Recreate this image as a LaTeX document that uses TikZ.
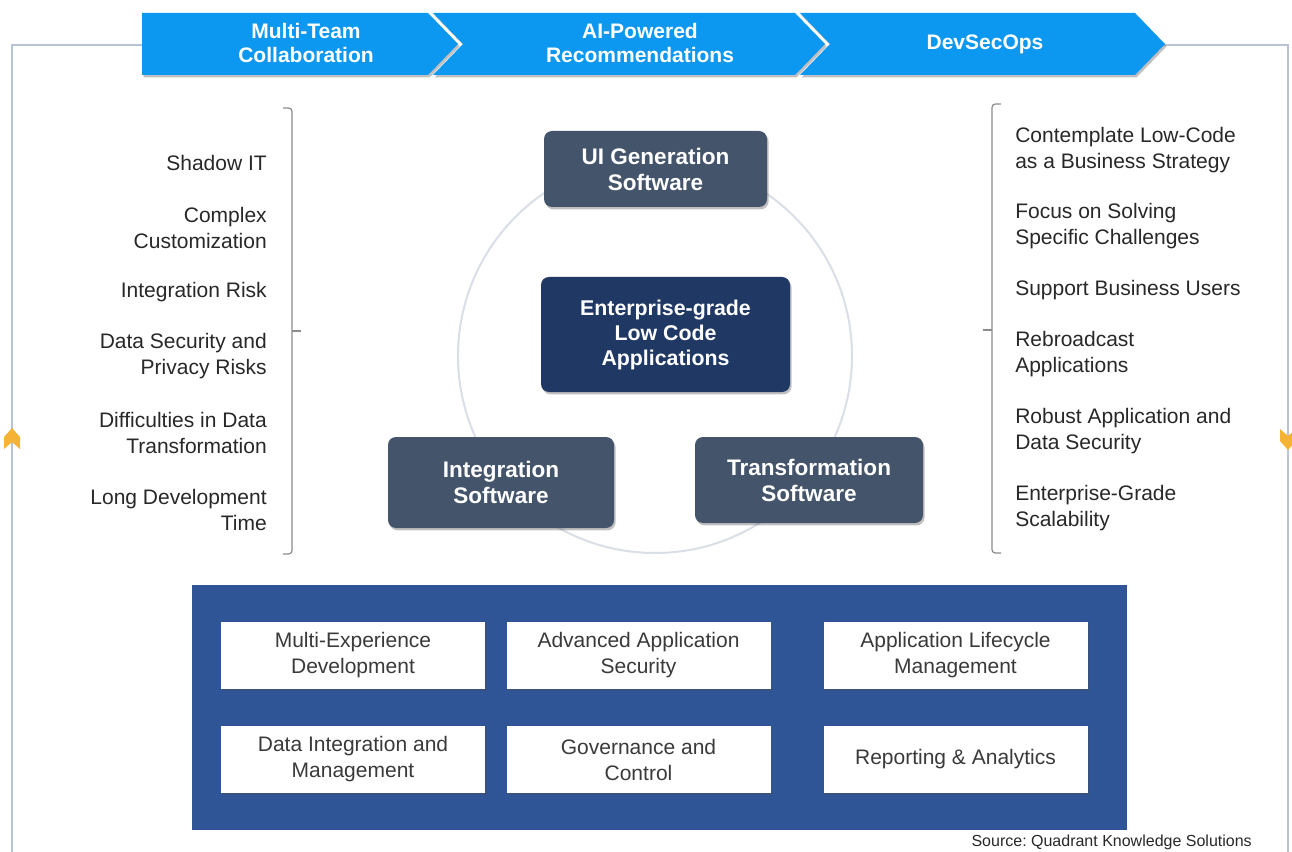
\documentclass[tikz,border=0pt]{standalone}
\usepackage{fontspec}
\setmainfont{Liberation Sans}
\usetikzlibrary{shadows}
\frenchspacing
\definecolor{chevblue}{RGB}{12,152,240}
\definecolor{slate}{RGB}{68,84,106}
\definecolor{navy}{RGB}{31,56,100}
\definecolor{panelblue}{RGB}{47,85,151}
\definecolor{framegray}{RGB}{184,196,214}
\definecolor{circgray}{RGB}{218,223,231}
\definecolor{brackgray}{RGB}{140,140,140}
\definecolor{arrowor}{RGB}{245,179,53}
\definecolor{txtdark}{RGB}{40,40,40}
\definecolor{boxtxt}{RGB}{58,58,58}
\begin{document}
\begin{tikzpicture}[x=0.75pt,y=-0.75pt,
  shad/.style={drop shadow={shadow xshift=1.2pt,shadow yshift=-1.8pt,opacity=.35,fill=black!70}},
  chev/.style={fill=chevblue,shad},
  chevtxt/.style={text=white,font=\fontsize{15.75}{18}\selectfont\bfseries,align=center,inner sep=0},
  softbox/.style={fill=slate,rounded corners=6pt,shad,text=white,align=center,
     font=\fontsize{16.9}{19.5}\selectfont\bfseries,inner sep=0},
  corebox/.style={fill=navy,rounded corners=6pt,shad,text=white,align=center,
     font=\fontsize{16}{18.75}\selectfont\bfseries,inner sep=0},
  featbox/.style={fill=white,shad,text=boxtxt,align=center,
     font=\fontsize{15.75}{19.5}\selectfont,inner sep=0,
     minimum width=198pt,minimum height=50.25pt},
  lefttxt/.style={anchor=east,align=right,text=txtdark,font=\fontsize{15.75}{19.1}\selectfont,inner sep=0},
  righttxt/.style={anchor=west,align=left,text=txtdark,font=\fontsize{15.75}{19.1}\selectfont,inner sep=0},
  frameline/.style={draw=framegray,line width=1.5pt},
  brack/.style={draw=brackgray,line width=0.9pt,rounded corners=2.5pt}
]
\useasboundingbox (0,0) rectangle (1292,852);
\fill[white] (0,0) rectangle (1292,852);

% outer frame lines
\coordinate (fl1) at (12,45);
\coordinate (fl2) at (12,852);
\coordinate (fr1) at (1288,45);
\coordinate (fr2) at (1288,852);
\draw[frameline] (142,45) -- (fl1) -- (fl2);
\draw[frameline] (1163,45) -- (fr1) -- (fr2);
\fill[arrowor] (12,428) -- (20,437) -- (20,449) -- (12,442) -- (4,449) -- (4,437) -- cycle;
\fill[arrowor] (1288,450) -- (1280,441) -- (1280,429) -- (1288,436) -- (1296,429) -- (1296,441) -- cycle;

% chevrons
\path[chev] (142,13) -- (428,13) -- (458,44) -- (428,75) -- (142,75) -- cycle;
\path[chev] (433,13) -- (795,13) -- (825,44) -- (795,75) -- (433,75) -- (463,44) -- cycle;
\path[chev] (800,13) -- (1135,13) -- (1165,44) -- (1135,75) -- (800,75) -- (830,44) -- cycle;
\node[chevtxt] (c1) at (306,43) {Multi-Team\\Collaboration};
\node[chevtxt] (c2) at (640,43) {AI-Powered\\Recommendations};
\node[chevtxt] (c3) at (985,44) {DevSecOps};

% circle
\draw[circgray,line width=1.5pt] (655,356) circle [radius=197];

% central boxes
\node[softbox,minimum width=167.25pt,minimum height=57pt] (ui) at (655.5,169) {UI Generation\\Software};
\node[corebox,minimum width=186.75pt,minimum height=86.25pt] (core) at (665.5,334.5) {Enterprise-grade\\Low Code\\Applications};
\node[softbox,minimum width=169.5pt,minimum height=68.25pt] (integ) at (501,482.5) {Integration\\Software};
\node[softbox,minimum width=171pt,minimum height=64.5pt] (trans) at (809,480) {Transformation\\Software};

% left list
\node[lefttxt] (l1) at (267,163) {Shadow IT};
\node[lefttxt] (l2) at (267,228) {Complex\\Customization};
\node[lefttxt] (l3) at (267,292) {Integration Risk};
\node[lefttxt] (l4) at (267,356) {Data Security and\\Privacy Risks};
\node[lefttxt] (l5) at (267,433) {Difficulties in Data\\Transformation};
\node[lefttxt] (l6) at (267,510) {Long Development\\Time};

% right list
\node[righttxt] (r1) at (1015,150) {Contemplate Low-Code\\as a Business Strategy};
\node[righttxt] (r2) at (1015,226) {Focus on Solving\\Specific Challenges};
\node[righttxt] (r3) at (1015,290) {Support Business Users};
\node[righttxt] (r4) at (1015,354) {Rebroadcast\\Applications};
\node[righttxt] (r5) at (1015,431) {Robust Application and\\Data Security};
\node[righttxt] (r6) at (1015,508) {Enterprise-Grade\\Scalability};

% brackets
\draw[brack] (283,108) -- (292,108) -- (292,554) -- (283,554);
\draw[draw=brackgray,line width=0.9pt] (292,331) -- (301,331);
\draw[brack] (1001,104) -- (992,104) -- (992,553) -- (1001,553);
\draw[draw=brackgray,line width=0.9pt] (992,330) -- (983,330);

% bottom panel
\fill[panelblue] (192,585) rectangle (1127,830);
\node[featbox] (b1) at (353,655.5) {Multi-Experience\\Development};
\node[featbox] (b2) at (638.5,655.5) {Advanced Application\\Security};
\node[featbox] (b3) at (955.5,655.5) {Application Lifecycle\\Management};
\node[featbox] (b4) at (353,759.5) {Data Integration and\\Management};
\node[featbox] (b5) at (638.5,759.5) {Governance and\\Control};
\node[featbox] (b6) at (955.5,759.5) {Reporting \& Analytics};

\node[anchor=east,inner sep=0,text=txtdark,font=\fontsize{12}{14}\selectfont] (src) at (1252,842) {Source: Quadrant Knowledge Solutions};
\end{tikzpicture}
\end{document}
